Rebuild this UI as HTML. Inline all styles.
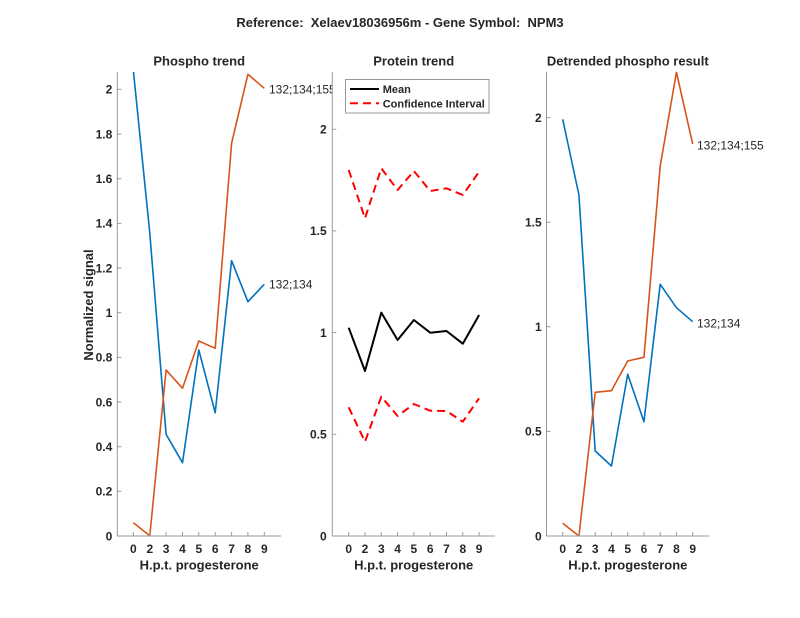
<!DOCTYPE html>
<html>
<head>
<meta charset="utf-8">
<style>
  html,body{margin:0;padding:0;background:#fff;}
  svg{display:block;}
  text{font-family:"Liberation Sans",Arial,sans-serif;fill:#262626;}
  .tk{font-size:12px;font-weight:bold;}
  .ttl{font-size:13px;font-weight:bold;}
  .lbl{font-size:12px;}
  .ax{stroke:#999;stroke-width:1;fill:none;}
</style>
</head>
<body>
<svg width="800" height="618" viewBox="0 0 800 618" xmlns="http://www.w3.org/2000/svg">
  <rect x="0" y="0" width="800" height="618" fill="#fff"/>
  <defs>
    <clipPath id="cL"><rect x="117.3" y="72" width="163.7" height="464.5"/></clipPath>
    <clipPath id="cR"><rect x="546.5" y="71.7" width="162.5" height="464.8"/></clipPath>
  </defs>

  <!-- Main title -->
  <text class="ttl" x="400" y="27" text-anchor="middle" xml:space="preserve">Reference:  Xelaev18036956m - Gene Symbol:  NPM3</text>

  <!-- ================= LEFT AXES ================= -->
  <text class="ttl" x="199.2" y="65.5" text-anchor="middle">Phospho trend</text>
  <g clip-path="url(#cL)" fill="none" stroke-width="1.6" stroke-linejoin="round">
    <polyline stroke="#0072BD" points="133.4,71 149.8,233.3 166.1,434.3 182.5,462.7 198.8,350 215.2,412.7 231.6,260.7 247.9,301.7 264.3,284.3"/>
    <polyline stroke="#D95319" points="133.4,522.7 149.8,535.7 166.1,370 182.5,388.3 198.8,341 215.2,348.3 231.6,143.3 247.9,74.3 264.3,88.3"/>
  </g>
  <path class="ax" d="M117.3,72 V536 H281"/>
  <g class="ax">
    <path d="M117.3,536 h4 M117.3,491.3 h4 M117.3,446.7 h4 M117.3,402 h4 M117.3,357.4 h4 M117.3,312.7 h4 M117.3,268 h4 M117.3,223.4 h4 M117.3,178.7 h4 M117.3,134.1 h4 M117.3,89.4 h4"/>
    <path d="M133.4,536 v-4 M149.8,536 v-4 M166.1,536 v-4 M182.5,536 v-4 M198.8,536 v-4 M215.2,536 v-4 M231.6,536 v-4 M247.9,536 v-4 M264.3,536 v-4"/>
  </g>
  <g class="tk" text-anchor="end">
    <text x="112.3" y="540.3">0</text>
    <text x="112.3" y="495.6">0.2</text>
    <text x="112.3" y="451">0.4</text>
    <text x="112.3" y="406.3">0.6</text>
    <text x="112.3" y="361.7">0.8</text>
    <text x="112.3" y="317">1</text>
    <text x="112.3" y="272.3">1.2</text>
    <text x="112.3" y="227.7">1.4</text>
    <text x="112.3" y="183">1.6</text>
    <text x="112.3" y="138.4">1.8</text>
    <text x="112.3" y="93.7">2</text>
  </g>
  <g class="tk" text-anchor="middle">
    <text x="133.4" y="553">0</text><text x="149.8" y="553">2</text><text x="166.1" y="553">3</text>
    <text x="182.5" y="553">4</text><text x="198.8" y="553">5</text><text x="215.2" y="553">6</text>
    <text x="231.6" y="553">7</text><text x="247.9" y="553">8</text><text x="264.3" y="553">9</text>
  </g>
  <text class="ttl" x="199.2" y="569.5" text-anchor="middle">H.p.t. progesterone</text>
  <text class="ttl" transform="translate(93,305) rotate(-90)" text-anchor="middle">Normalized signal</text>
  <text class="lbl" x="269" y="93.3">132;134;155</text>
  <text class="lbl" x="269" y="288.6">132;134</text>

  <!-- ================= MIDDLE AXES ================= -->
  <rect x="332.3" y="72" width="163" height="464" fill="#fff"/>
  <text class="ttl" x="413.7" y="65.5" text-anchor="middle">Protein trend</text>
  <g fill="none" stroke-linejoin="round">
    <polyline stroke="#000" stroke-width="2" points="348.7,327.7 365,371 381.3,312.7 397.6,340 413.9,320 430.2,332.7 446.5,331 462.8,343.7 479.1,315"/>
    <polyline stroke="#FF0000" stroke-width="2" stroke-dasharray="8,5" points="348.7,170 365,218.3 381.3,168.3 397.6,190 413.9,171 430.2,191 446.5,188.3 462.8,195 479.1,171.7"/>
    <polyline stroke="#FF0000" stroke-width="2" stroke-dasharray="8,5" points="348.7,407.3 365,441.7 381.3,396.7 397.6,416 413.9,404 430.2,410.7 446.5,411 462.8,421.7 479.1,398.3"/>
  </g>
  <path class="ax" d="M332.3,72 V536 H495"/>
  <g class="ax">
    <path d="M332.3,536 h4 M332.3,434.3 h4 M332.3,332.6 h4 M332.3,230.9 h4 M332.3,129.2 h4"/>
    <path d="M348.7,536 v-4 M365,536 v-4 M381.3,536 v-4 M397.6,536 v-4 M413.9,536 v-4 M430.2,536 v-4 M446.5,536 v-4 M462.8,536 v-4 M479.1,536 v-4"/>
  </g>
  <g class="tk" text-anchor="end">
    <text x="326.7" y="540.3">0</text>
    <text x="326.7" y="438.6">0.5</text>
    <text x="326.7" y="336.9">1</text>
    <text x="326.7" y="235.2">1.5</text>
    <text x="326.7" y="133.5">2</text>
  </g>
  <g class="tk" text-anchor="middle">
    <text x="348.7" y="553">0</text><text x="365" y="553">2</text><text x="381.3" y="553">3</text>
    <text x="397.6" y="553">4</text><text x="413.9" y="553">5</text><text x="430.2" y="553">6</text>
    <text x="446.5" y="553">7</text><text x="462.8" y="553">8</text><text x="479.1" y="553">9</text>
  </g>
  <text class="ttl" x="413.7" y="569.5" text-anchor="middle">H.p.t. progesterone</text>
  <!-- legend -->
  <rect x="345.5" y="79.5" width="143.5" height="33.5" fill="#fff" stroke="#999" stroke-width="1"/>
  <line x1="350" y1="89" x2="379" y2="89" stroke="#000" stroke-width="2"/>
  <line x1="350" y1="103.3" x2="379" y2="103.3" stroke="#FF0000" stroke-width="2" stroke-dasharray="8,5"/>
  <text x="382.7" y="93" style="font-size:11px;font-weight:bold;">Mean</text>
  <text x="382.7" y="107.3" style="font-size:11px;font-weight:bold;">Confidence Interval</text>

  <!-- ================= RIGHT AXES ================= -->
  <text class="ttl" x="627.8" y="65.5" text-anchor="middle">Detrended phospho result</text>
  <g clip-path="url(#cR)" fill="none" stroke-width="1.6" stroke-linejoin="round">
    <polyline stroke="#0072BD" points="562.7,119.3 578.95,195 595.2,451 611.45,466 627.7,374.3 643.95,421.7 660.2,284.3 676.45,307.7 692.7,321.7"/>
    <polyline stroke="#D95319" points="562.7,523.3 578.95,536 595.2,392.3 611.45,390.7 627.7,361 643.95,357.3 660.2,166 676.45,72.3 692.7,144"/>
  </g>
  <path class="ax" d="M546.5,71.7 V536 H709"/>
  <g class="ax">
    <path d="M546.5,536 h4 M546.5,431.4 h4 M546.5,326.8 h4 M546.5,222.2 h4 M546.5,117.6 h4"/>
    <path d="M562.7,536 v-4 M578.95,536 v-4 M595.2,536 v-4 M611.45,536 v-4 M627.7,536 v-4 M643.95,536 v-4 M660.2,536 v-4 M676.45,536 v-4 M692.7,536 v-4"/>
  </g>
  <g class="tk" text-anchor="end">
    <text x="541.7" y="540.3">0</text>
    <text x="541.7" y="435.7">0.5</text>
    <text x="541.7" y="331.1">1</text>
    <text x="541.7" y="226.5">1.5</text>
    <text x="541.7" y="121.9">2</text>
  </g>
  <g class="tk" text-anchor="middle">
    <text x="562.7" y="553">0</text><text x="578.95" y="553">2</text><text x="595.2" y="553">3</text>
    <text x="611.45" y="553">4</text><text x="627.7" y="553">5</text><text x="643.95" y="553">6</text>
    <text x="660.2" y="553">7</text><text x="676.45" y="553">8</text><text x="692.7" y="553">9</text>
  </g>
  <text class="ttl" x="627.8" y="569.5" text-anchor="middle">H.p.t. progesterone</text>
  <text class="lbl" x="697" y="149.5">132;134;155</text>
  <text class="lbl" x="697" y="327.3">132;134</text>
</svg>
</body>
</html>
